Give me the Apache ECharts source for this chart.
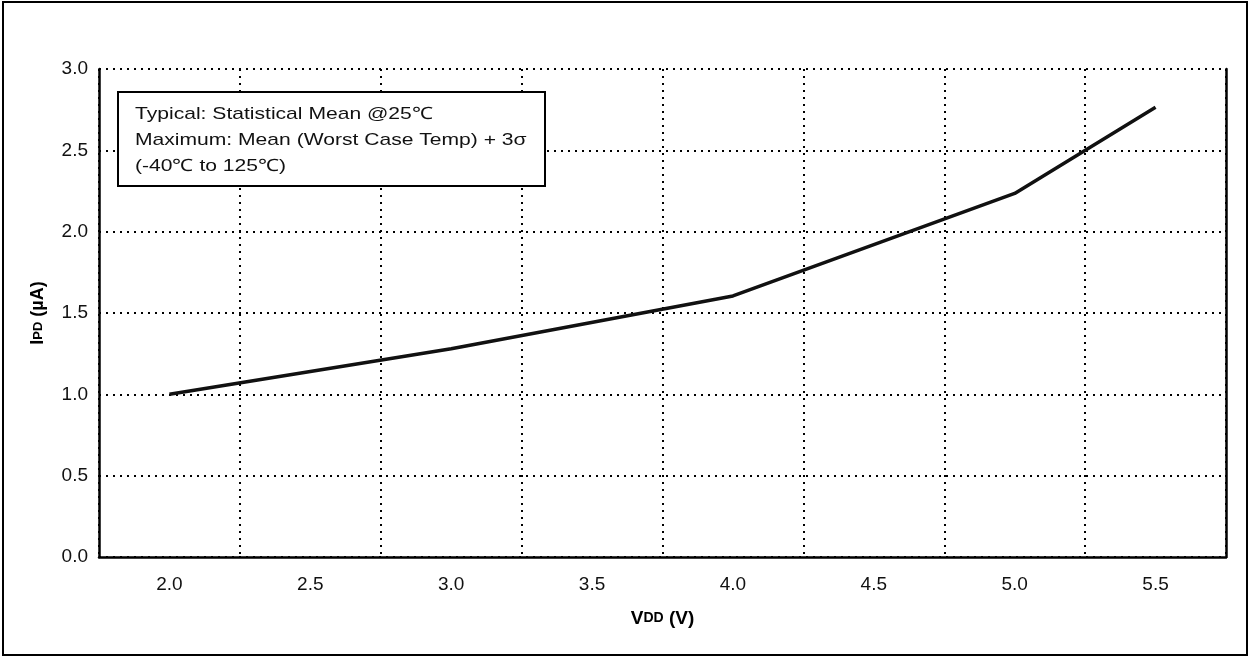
<!DOCTYPE html>
<html>
<head>
<meta charset="utf-8">
<script src="https://cdn.jsdelivr.net/npm/echarts@6/dist/echarts.min.js"></script>
<style>
html,body{margin:0;padding:0;background:#fff;}
#c{width:1250px;height:658px;}
</style>
</head>
<body>
<div id="c"></div>
<script>
const categories = ['2.0','2.5','3.0','3.5','4.0','4.5','5.0','5.5'];
const ipdValues = [1.0, null, 1.28, null, 1.605, null, 2.235, 2.765];
const yTicks = ['0.0','0.5','1.0','1.5','2.0','2.5','3.0'];
const legendLines = ['Typical: Statistical Mean @25\u2103', 'Maximum: Mean (Worst Case Temp) + 3\u03c3', '(-40\u2103 to 125\u2103)'];

const font = 'Liberation Sans, Arial, sans-serif';
const chart = echarts.init(document.getElementById('c'), null, {renderer:'canvas'});
const gridLeft = 99, gridTop = 69, gridRight = 1250-1226, gridBottom = 658-557;
chart.setOption({
  animation:false,
  backgroundColor:'#fff',
  grid:{left:gridLeft, top:gridTop, right:gridRight, bottom:gridBottom, containLabel:false},
  xAxis:{
    type:'category', data:categories, boundaryGap:true,
    axisLine:{show:true, lineStyle:{color:'#000', width:2.5}},
    axisTick:{show:false},
    axisLabel:{color:'#111', fontFamily:font, fontSize:19, margin:18},
    splitLine:{show:true, interval:0, lineStyle:{color:'#000', width:2, type:[2,5]}},
    name:'V{s|DD} (V)', nameLocation:'middle', nameGap:52,
    nameTextStyle:{color:'#000', fontFamily:font, fontSize:19, fontWeight:'bold',
      rich:{s:{fontSize:14, fontWeight:'bold', fontFamily:font, color:'#000'}}}
  },
  yAxis:[{
    type:'value', min:0, max:3, interval:0.5,
    axisLine:{show:true, lineStyle:{color:'#000', width:2.5}},
    axisTick:{show:false},
    axisLabel:{color:'#111', fontFamily:font, fontSize:19, margin:11,
      formatter:(v)=>yTicks[Math.round(v/0.5)]},
    splitLine:{show:true, lineStyle:{color:'#000', width:2, type:[2,5]}},
    name:'I{s|PD} (\u00b5A)', nameLocation:'middle', nameGap:52, nameRotate:90,
    nameTextStyle:{color:'#000', fontFamily:font, fontSize:18, fontWeight:'bold',
      rich:{s:{fontSize:13, fontWeight:'bold', fontFamily:font, color:'#000'}}}
  },{
    type:'value', min:0, max:3, interval:0.5, position:'right',
    axisLine:{show:true, lineStyle:{color:'#000', width:2.5}},
    axisTick:{show:false}, axisLabel:{show:false}, splitLine:{show:false}
  }],
  series:[{
    type:'line', data:ipdValues, connectNulls:true, showSymbol:false, symbol:'none',
    lineStyle:{color:'#111', width:3.5}, z:5
  }],
  graphic:[
    {type:'rect', x:3, y:2, shape:{x:0, y:0, width:1244, height:653}, style:{fill:'none', stroke:'#000', lineWidth:2}, z:10},
    {type:'rect', x:118, y:92, shape:{x:0, y:0, width:427, height:94}, style:{fill:'#fff', stroke:'#000', lineWidth:2}, z:20},
    {type:'text', x:135, y:101, scaleX:1.24, scaleY:1, style:{x:0, y:0, text:legendLines.join('\n'), font:'17px '+font, fill:'#111', lineHeight:26}, z:21}
  ]
});
</script>
</body>
</html>
